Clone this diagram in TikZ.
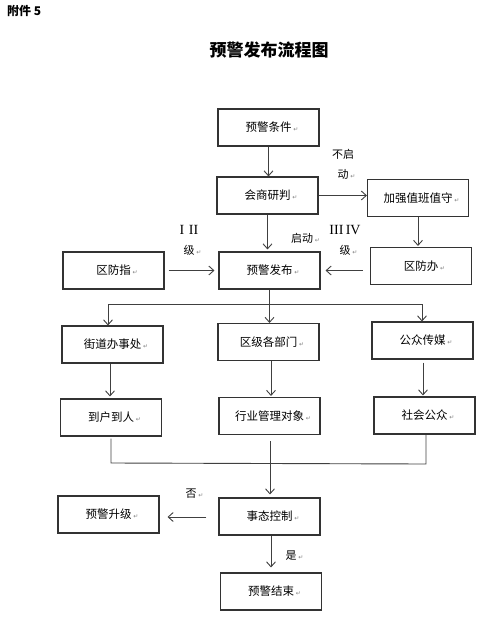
\documentclass[tikz,border=0pt]{standalone}
\usepackage{fontspec}
\setmainfont{Noto Sans CJK SC}
\newfontfamily\symfont{DejaVu Sans}
\newfontfamily\romfont{Liberation Serif}
\usetikzlibrary{arrows.meta}
\newcommand{\ret}{\rlap{\,{\symfont\fontsize{6}{6}\selectfont\color{gray}↵}}}
\begin{document}
\begin{tikzpicture}[x=1pt, y=-1pt,
    box/.style={draw=black!80, line width=1.1pt, minimum width=101pt, minimum height=37pt, inner sep=0pt, font=\fontsize{11.5}{14}\selectfont},
    arw/.style={draw=black!75, line width=0.9pt, -{Straight Barb[length=5pt, width=9pt]}},
    ln/.style={draw=black!75, line width=0.9pt},
    lbl/.style={inner sep=0pt, align=center, font=\fontsize{11}{20}\selectfont}]
\useasboundingbox (0,0) rectangle (488,621);
\node[anchor=west, inner sep=0pt, font=\fontsize{12}{12}\selectfont\bfseries] (att) at (7,11) {附件 5};
\node[inner sep=0pt, font=\fontsize{17}{17}\selectfont\bfseries] (title) at (269,50) {预警发布流程图};
% boxes
\foreach \n/\x/\y/\t in {cond/268.5/127.5/预警条件, consult/267.5/195.5/会商研判, duty/418/198/加强值班值守,
    qfz/113.5/270.5/区防指, issue/269.5/270.5/预警发布, qfb/421/266/区防办,
    street/112.5/344.5/街道办事处, dept/268.5/342/区级各部门, media/422.5/340.5/公众传媒,
    home/111/417.5/到户到人, target/269.5/416/行业管理对象, public/424.5/415.5/社会公众,
    up/108.5/514.5/预警升级, ctrl/269.5/516.5/事态控制, fin/271/591.5/预警结束} {
    \node[box] (\n) at (\x,\y) {\t\ret};
}
% labels
\node[lbl] (nostart) at (343,164) {不启\\动\ret};
\node[lbl] (start) at (302,238) {启动\ret};
\node[lbl] (lvl12) at (189,240) {{\romfont\fontsize{14}{20}\selectfont I\,\,II}\\级\ret};
\node[lbl] (lvl34) at (345,240) {{\romfont\fontsize{14}{20}\selectfont III\,IV}\\级\ret};
\node[lbl] (no) at (191,494) {否\ret};
\node[lbl] (yes) at (291,556) {是\ret};
% upper arrows
\draw[arw] (cond.south) -- (cond.south |- consult.north);
\draw[arw, shorten >=2pt] (consult.south) -- (consult.south |- issue.north);
\draw[arw] (consult.east) -- (consult.east -| duty.west);
\draw[arw, shorten >=1pt] (duty.south) -- (duty.south |- qfb.north);
\draw[arw, shorten <=4pt, shorten >=4pt] (qfz.east) -- (issue.west);
\draw[arw, shorten <=7pt, shorten >=5pt] (qfb.west |- issue.east) -- (issue.east);
% fan out
\coordinate (split) at (269.5,304);
\coordinate (sl) at (108,304);
\coordinate (sr) at (422,304);
\draw[ln] (issue.south) -- (split);
\draw[ln] (sl) -- (sr);
\foreach \c/\b in {sl/street, split/dept, sr/media} {
    \draw[arw] (\c) -- (\c |- \b.north);
}
% middle arrows
\draw[arw, shorten >=2pt] (street.south -| 110,0) -- (home.north -| 110,0);
\draw[arw, shorten >=1pt] (dept.south -| 271,0) -- (target.north -| 271,0);
\draw[arw, shorten <=3pt, shorten >=1pt] (media.south -| 423,0) -- (public.north -| 423,0);
% merge
\coordinate (ml) at (111,463);
\coordinate (mr) at (426,464);
\draw[ln, shorten <=2pt] (home.south -| ml) -- (ml) -- (mr) -- (public.south -| mr);
\draw[arw, shorten <=6pt, shorten >=3pt] (target.south -| 270,0) -- (ctrl.north -| 270,0);
% result
\draw[arw, shorten <=12pt, shorten >=8pt] (ctrl.west |- 0,517) -- (up.east |- 0,517);
\draw[arw, shorten >=5pt] (ctrl.south -| 271,0) -- (fin.north -| 271,0);
\end{tikzpicture}
\end{document}
